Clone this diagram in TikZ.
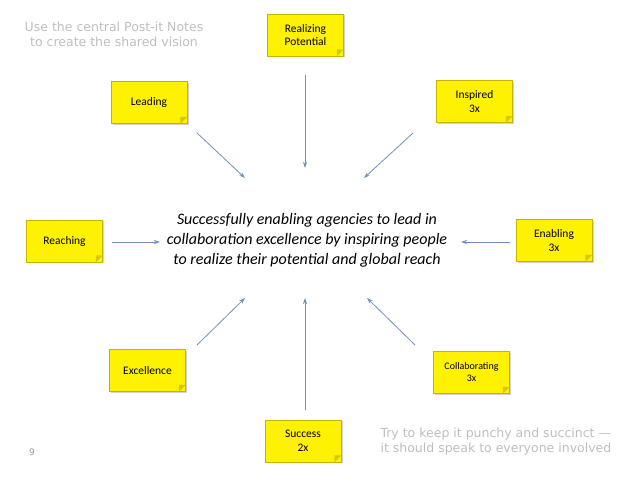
\documentclass[tikz,border=0pt]{standalone}
\usepackage{fontspec}
\setmainfont{Carlito}
\newfontfamily\greyfont{DejaVu Sans}
\usetikzlibrary{shadows,arrows.meta}
\definecolor{noteY}{HTML}{FFF200}
\definecolor{noteB}{HTML}{C8B400}
\definecolor{arrowC}{HTML}{6F90B8}
\definecolor{greyT}{HTML}{BEBEBE}
\tikzset{
  note/.style={draw=noteB, line width=0.6pt, fill=noteY, minimum width=76pt, minimum height=42pt,
    align=center, font=\fontsize{11.5}{13.5}\selectfont, text=black,
    drop shadow={shadow xshift=1.5pt, shadow yshift=-1.5pt, opacity=0.35}},
  link/.style={draw=arrowC, line width=0.8pt, -{Stealth[length=6pt,width=4pt]}},
  grey/.style={text=greyT, align=center, font=\greyfont\fontsize{12.5}{15}\selectfont}
}
\newcommand{\fold}[1]{\fill[noteB!70!noteY] ([xshift=-7pt]#1.south east) -- ([yshift=7pt]#1.south east) -- ([xshift=-7pt,yshift=7pt]#1.south east) -- cycle;}
\begin{document}
\begin{tikzpicture}[x=1pt,y=-1pt]
\useasboundingbox (0,0) rectangle (638,478);
\node[note] (rp) at (305.5,35) {Realizing\\Potential};
\node[note] (le) at (149,102.5) {Leading};
\node[note] (in) at (474.5,101.5) {Inspired\\3x};
\node[note] (re) at (64.5,241) {Reaching};
\node[note] (en) at (554,240.5) {Enabling\\3x};
\node[note] (ex) at (147.5,370.5) {Excellence};
\node[note, font=\fontsize{10}{12}\selectfont] (co) at (471.5,372.5) {Collaborating\\3x};
\node[note] (su) at (303,441) {Success\\2x};
\foreach \n in {rp,le,in,re,en,ex,co,su} {\fold{\n}}
\node[align=center, font=\itshape\fontsize{16}{20}\selectfont] (c) at (307,240)
  {Successfully enabling agencies to lead in\\collaboration excellence by inspiring people\\to realize their potential and global reach};
\node[grey] (t1) at (114,34) {Use the central Post-it Notes\\to create the shared vision};
\node[grey, align=left, anchor=west] (t2) at (377,442) {Try to keep it punchy and succinct —\\it should speak to everyone involved};
\node[text=greyT!80!black, font=\greyfont\fontsize{9}{11}\selectfont] (pg) at (32,452) {9};
\coordinate (a1s) at (305,75); \coordinate (a1e) at (305,168);
\coordinate (a2s) at (197,133); \coordinate (a2e) at (245,178);
\coordinate (a3s) at (413,133); \coordinate (a3e) at (364,178);
\coordinate (a4s) at (112,242); \coordinate (a4e) at (160,242);
\coordinate (a5s) at (510,242); \coordinate (a5e) at (461,242);
\coordinate (a6s) at (197,345); \coordinate (a6e) at (245,298);
\coordinate (a7s) at (415,345); \coordinate (a7e) at (367,298);
\coordinate (a8s) at (305,410); \coordinate (a8e) at (305,298);
\foreach \i in {1,...,8} {\draw[link] (a\i s) -- (a\i e);}
\end{tikzpicture}
\end{document}
